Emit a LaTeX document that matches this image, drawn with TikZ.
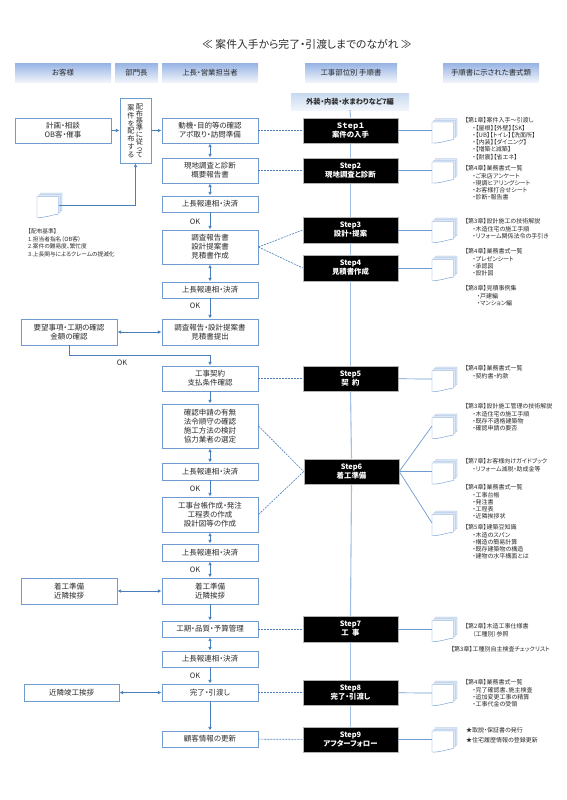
\documentclass[tikz,border=0pt]{standalone}
\usepackage{fontspec}
\setmainfont[RawFeature=+palt]{Noto Sans CJK JP}
\usetikzlibrary{arrows.meta}
\definecolor{boxblue}{HTML}{6F9BD1}
\definecolor{arrowblue}{HTML}{4A7EBB}
\definecolor{spineblue}{HTML}{A3C0E4}
\definecolor{sheetblue}{HTML}{DCE6F5}
\definecolor{inkgray}{HTML}{2B2B2B}
\tikzset{
    flowbox/.style={draw=boxblue,line width=0.9pt,fill=white,minimum width=96,inner sep=0pt,align=center,text=inkgray,font=\fontsize{7.5}{8.9}\selectfont},
    stepbox/.style={draw=gray!60,line width=0.5pt,fill=black,minimum width=95,minimum height=25.5,inner sep=0pt,align=center,text=white,font=\bfseries\fontsize{7.4}{9}\selectfont},
    headbox/.style={top color=spineblue!95!blue,bottom color=sheetblue!45,minimum height=18,inner sep=0pt,text=inkgray,font=\fontsize{7.4}{8}\selectfont},
    notes/.style={anchor=north west,inner sep=0pt,align=left,text=inkgray,font=\fontsize{6}{7.3}\selectfont},
    flow/.style={arrowblue,line width=0.7pt,-{Latex[length=3.6pt,width=3.6pt]}},
    twoway/.style={arrowblue,line width=0.7pt,{Latex[length=3.6pt,width=3.6pt]}-{Latex[length=3.6pt,width=3.6pt]}},
    dashlink/.style={arrowblue,line width=0.6pt,dashed,dash pattern=on 2pt off 1pt},
    doclink/.style={boxblue,line width=0.7pt},
    spine/.style={spineblue,line width=1.1pt},
    oktext/.style={inner sep=0pt,text=inkgray,font=\fontsize{7.4}{9}\selectfont},
    docstack/.pic={
        \foreach \dx/\dy in {3.5/-3.5,1.8/-1.8}
            \draw[boxblue!70,line width=0.35pt,fill=sheetblue,shift={(\dx,\dy)}] (0,-8.5) -- (21.5,-8.5) -- (21.5,9) .. controls (14,10) and (8,13) .. (0,12.5) -- cycle;
        \draw[boxblue,line width=0.45pt,fill=white] (0,-8.5) -- (21.5,-8.5) -- (21.5,9) .. controls (14,10) and (8,13) .. (0,12.5) -- cycle;
    }
}
\newcommand{\sub}{\hspace*{7.5pt}}
\begin{document}
\begin{tikzpicture}[x=1pt,y=-1pt]
\useasboundingbox (0,0) rectangle (566,800);
\node[inner sep=0pt,text=inkgray,font=\fontsize{10.8}{12}\selectfont] (title) at (307,44) {≪ 案件入手から完了・引渡しまでのながれ ≫};

\node[headbox,minimum width=96] (headcust) at (63,73) {お客様};
\node[headbox,minimum width=43] (headdept) at (136.5,73) {部門長};
\node[headbox,minimum width=96] (headsale) at (210,73) {上長・営業担当者};
\node[headbox,minimum width=92] (headwork) at (351,73) {工事部位別 手順書};
\node[headbox,minimum width=96] (headform) at (491,73) {手順書に示された書式類};
\node[headbox,minimum width=118,minimum height=17,top color=spineblue!60,bottom color=sheetblue!40,font=\bfseries\fontsize{7.2}{8}\selectfont] (band) at (350,101.5) {外装・内装・水まわりなど7編};

\node[flowbox,minimum height=25] (plan) at (63,130.5) {計画・相談\\OB客・催事};
\node[flowbox,minimum width=31,minimum height=65] (haifu) at (135.5,130.5) {};
\node[inner sep=0pt,align=center,text=inkgray,font=\fontsize{7.2}{6.9}\selectfont] (haifua) at (139.5,131) {配\\布\\基\\準\\に\\従\\っ\\て};
\node[inner sep=0pt,align=center,text=inkgray,font=\fontsize{7.2}{7.8}\selectfont] (haifub) at (131,131) {案\\件\\を\\配\\布\\す\\る};
\node[flowbox,minimum height=25] (doki) at (210,130.5) {動機・目的等の確認\\アポ取り・訪問準備};
\node[flowbox,minimum height=25] (genchi) at (210,170.5) {現地調査と診断\\概要報告書};
\node[flowbox,minimum height=16] (jocho1) at (210,204) {上長報連相・決済};
\node[flowbox,minimum height=34] (chosa) at (210,247) {調査報告書\\設計提案書\\見積書作成};
\node[flowbox,minimum height=16] (jocho2) at (210,290) {上長報連相・決済};
\node[flowbox,minimum height=26] (teian) at (210,332) {調査報告・設計提案書\\見積書提出};
\node[flowbox,minimum height=26] (youbou) at (69,332) {要望事項・工期の確認\\金額の確認};
\node[flowbox,minimum height=25] (keiyaku) at (210,378.5) {工事契約\\支払条件確認};
\node[flowbox,minimum height=44] (kakunin) at (210,426) {確認申請の有無\\法令順守の確認\\施工方法の検討\\協力業者の選定};
\node[flowbox,minimum height=17] (jocho3) at (210,471.5) {上長報連相・決済};
\node[flowbox,minimum height=35] (daicho) at (210,514.5) {工事台帳作成・発注\\工程表の作成\\設計図等の作成};
\node[flowbox,minimum height=17] (jocho4) at (210,552.5) {上長報連相・決済};
\node[flowbox,minimum height=26] (chako) at (210,591) {着工準備\\近隣挨拶};
\node[flowbox,minimum height=26] (chakocust) at (69,591) {着工準備\\近隣挨拶};
\node[flowbox,minimum height=16] (kouki) at (210,629) {工期・品質・予算管理};
\node[flowbox,minimum height=16] (jocho5) at (210,659) {上長報連相・決済};
\node[flowbox,minimum height=17] (kanryo) at (210,692.5) {完了・引渡し};
\node[flowbox,minimum width=95,minimum height=17] (kinko) at (71.5,692.5) {近隣竣工挨拶};
\node[flowbox,minimum height=16] (kokyaku) at (210,739) {顧客情報の更新};

\node[oktext] (ok1) at (195,222) {OK};
\node[oktext] (ok2) at (195,306) {OK};
\node[oktext] (ok3) at (122,363) {OK};
\node[oktext] (ok4) at (195,489) {OK};
\node[oktext] (ok5) at (195,570) {OK};
\node[oktext] (ok6) at (195,676) {OK};

\node[stepbox] (step1) at (350.5,130.5) {Ｓｔｅｐ１\\案件の入手};
\node[stepbox] (step2) at (350.5,170.5) {Step2\\現地調査と診断};
\node[stepbox] (step3) at (350.5,230) {Step3\\設計・提案};
\node[stepbox] (step4) at (350.5,268) {Step4\\見積書作成};
\node[stepbox] (step5) at (350.5,378.5) {Step5\\契\ \ 約};
\node[stepbox] (step6) at (351.5,471.5) {Step6\\着工準備};
\node[stepbox] (step7) at (350.5,629) {Step7\\工\ \ 事};
\node[stepbox] (step8) at (350.5,692.5) {Step8\\完了・引渡し};
\node[stepbox] (step9) at (350.5,739.5) {Step9\\アフターフォロー};

\foreach \name/\py in {doc1/130.5,doc2/170.5,doc3/230,doc4/268,doc5/379,doc6a/426,doc6b/471.5,doc6c/523,doc7/629,doc8/693,doc9/739.5} {
    \coordinate (\name) at (432,\py);
    \pic at (\name) {docstack};
}
\coordinate (docleft) at (37,205);
\pic at (docleft) {docstack};

\node[notes] (note1) at (465,117.5) {【第1章】案件入手～引渡し\\\sub・【屋根】【外壁】【SK】\\\sub・【UB】【トイレ】【洗面所】\\\sub・【内装】【ダイニング】\\\sub・【増築と減築】\\\sub・【耐震】【省エネ】};
\node[notes] (note2) at (465,165.5) {【第4章】業務書式一覧\\\sub・ご来店アンケート\\\sub・現調ヒアリングシート\\\sub・お客様打合せシート\\\sub・診断・報告書};
\node[notes] (note3) at (465,218.5) {【第3章】設計施工の技術解説\\\sub・木造住宅の施工手順\\\sub・リフォーム関係法令の手引き};
\node[notes] (note4) at (465,248.5) {【第4章】業務書式一覧\\\sub・プレゼンシート\\\sub・承認図\\\sub・設計図};
\node[notes] (note5) at (465,285.5) {【第8章】見積事例集\\\hspace*{12pt}・戸建編\\\hspace*{12pt}・マンション編};
\node[notes] (note6) at (465,365.5) {【第4章】業務書式一覧\\\sub・契約書・約款};
\node[notes] (note7) at (465,403.5) {【第3章】設計施工管理の技術解説\\\sub・木造住宅の施工手順\\\sub・既存不適格建築物\\\sub・確認申請の要否};
\node[notes] (note8) at (465,458.5) {【第7章】お客様向けガイドブック\\\sub・リフォーム減税・助成金等};
\node[notes] (note9) at (465,484.5) {【第4章】業務書式一覧\\\sub・工事台帳\\\sub・発注書\\\sub・工程表\\\sub・近隣挨拶状};
\node[notes] (note10) at (465,524.5) {【第5章】建築豆知識\\\sub・木造のスパン\\\sub・構造の簡易計算\\\sub・既存建築物の構造\\\sub・建物の水平構面とは};
\node[notes] (note11) at (465,623.5) {【第2章】木造工事仕様書\\\sub（工種別）参照};
\node[notes] (note12) at (451,646.5) {【第3章】工種別自主検査チェックリスト};
\node[notes] (note13) at (465,679.5) {【第4章】業務書式一覧\\\sub・完了確認書、施主検査\\\sub・追加変更工事の精算\\\sub・工事代金の受領};
\node[notes,font=\fontsize{6}{10}\selectfont] (note14) at (466,727) {★取説・保証書の発行\\★住宅履歴情報の登録更新};
\node[notes,font=\fontsize{5.7}{7.5}\selectfont] (noteleft) at (28,228.5) {【配布基準】\\1.担当者指名（OB客）\\2.案件の難易度、繁忙度\\3.上長関与によるクレームの提減化};

\draw[spine] (band.south) -- (step1.north);
\draw[spine] (step1.south) -- (step2.north);
\draw[spine] (step2.south) -- (step3.north);
\draw[spine] (step3.south) -- (step4.north);
\draw[spine] (step4.south) -- (step5.north);
\draw[spine] (step5.south) -- (step6.north);
\draw[spine] (step6.south) -- (step7.north);
\draw[spine] (step7.south) -- (step8.north);
\draw[spine] (step8.south) -- (step9.north);

\draw[flow] (plan.east) -- (plan.east -| haifu.west);
\draw[flow] (haifu.east |- doki.west) -- (doki.west);
\draw[flow] (docleft) ++(21.5,0) -| (haifu.south);
\draw[twoway] (doki) -- (genchi);
\draw[twoway] (genchi) -- (jocho1);
\draw[flow] (jocho1) -- (chosa);
\draw[twoway] (chosa) -- (jocho2);
\draw[flow] (jocho2) -- (teian);
\draw[twoway] (youbou) -- (teian);
\draw[flow] (youbou.south) -- ++(0,10) -| (keiyaku.north);
\draw[flow] (keiyaku) -- (kakunin);
\draw[twoway] (kakunin) -- (jocho3);
\draw[flow] (jocho3) -- (daicho);
\draw[twoway] (daicho) -- (jocho4);
\draw[twoway] (jocho4) -- (chako);
\draw[twoway] (chakocust) -- (chako);
\draw[flow] (chako) -- (kouki);
\draw[twoway] (kouki) -- (jocho5);
\draw[flow] (jocho5) -- (kanryo);
\draw[twoway] (kinko) -- (kanryo);
\draw[flow] (kanryo) -- (kokyaku);

\draw[dashlink] (doki) -- (step1);
\draw[dashlink] (genchi) -- (step2);
\draw[dashlink] (chosa.east) -- (step3.west);
\draw[dashlink] (chosa.east) -- (step4.west);
\draw[dashlink] (keiyaku) -- (step5);
\draw[dashlink] (kakunin.east) -- (step6.west);
\draw[dashlink] (daicho.east) -- (step6.west);
\draw[dashlink] (kouki) -- (step7);
\draw[dashlink] (kanryo) -- (step8);
\draw[dashlink] (kokyaku) -- (step9);

\draw[doclink] (step1) -- (doc1);
\draw[doclink] (step2) -- (doc2);
\draw[doclink] (step3) -- (doc3);
\draw[doclink] (step4) -- (doc4);
\draw[doclink] (step5) -- (doc5);
\draw[doclink] (step6.east) -- (doc6a);
\draw[doclink] (step6.east) -- (doc6b);
\draw[doclink] (step6.east) -- (doc6c);
\draw[doclink] (step7) -- (doc7);
\draw[doclink] (step8) -- (doc8);
\draw[doclink] (step9) -- (doc9);
\end{tikzpicture}
\end{document}
